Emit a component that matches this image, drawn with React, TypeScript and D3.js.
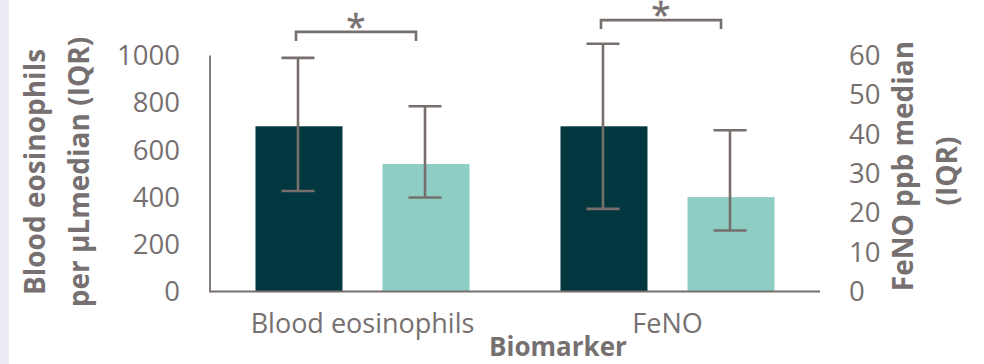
import React from 'react';
import * as d3 from 'd3';

// data
const categories = ['Blood eosinophils', 'FeNO'];
const categoryAxis = ['left', 'right'];
const seriesNames = ['baseline', 'follow-up'];
const medianDark = [700, 42];
const medianLight = [540, 24];
const q1Dark = [426, 21];
const q3Dark = [990, 63];
const q1Light = [398, 15.5];
const q3Light = [785, 41];
const leftTicks = [0, 200, 400, 600, 800, 1000];
const rightTicks = [0, 10, 20, 30, 40, 50, 60];
const bracketLevel = [1100, 69];

const W = 984;
const H = 364;
const GRAY = '#766f6c';
const TEXT = '#767070';
const DARK = '#03373f';
const LIGHT = '#8ecdc4';
const FONT = "'Open Sans', 'Noto Sans', sans-serif";

const App = () => {
  const plot = { left: 210, right: 820, top: 55.5, bottom: 291.5 };

  const x = d3.scaleBand().domain(categories).range([plot.left, plot.right]).padding(0);
  const xInner = d3.scaleBand()
    .domain(seriesNames)
    .range([0, x.bandwidth()])
    .paddingInner(0.315)
    .paddingOuter(0.358);

  const yLeft = d3.scaleLinear().domain([0, 1000]).range([plot.bottom, plot.top]);
  const yRight = d3.scaleLinear().domain([0, 60]).range([plot.bottom, plot.top]);
  const yFor = (i: number) => (categoryAxis[i] === 'left' ? yLeft : yRight);

  const bars = categories.flatMap((c, i) => [
    { cat: c, i, s: seriesNames[0], v: medianDark[i], lo: q1Dark[i], hi: q3Dark[i], fill: DARK },
    { cat: c, i, s: seriesNames[1], v: medianLight[i], lo: q1Light[i], hi: q3Light[i], fill: LIGHT },
  ]);

  const capW = 33;

  return (
    <svg width={W} height={H} style={{ position: 'absolute', left: 0, top: 0, background: '#fff' }}>
      <rect x={0} y={0} width={9} height={H} fill="#ebebf4" />

      {/* bars */}
      {bars.map((b, k) => {
        const y = yFor(b.i);
        const bx = (x(b.cat) as number) + (xInner(b.s) as number);
        return (
          <rect key={'b' + k} x={bx} y={y(b.v)} width={xInner.bandwidth()}
            height={plot.bottom - y(b.v)} fill={b.fill} />
        );
      })}

      {/* axes lines */}
      <line x1={plot.left} x2={plot.left} y1={plot.top} y2={plot.bottom + 1} stroke={GRAY} strokeWidth={1.8} />
      <line x1={plot.left} x2={plot.right} y1={plot.bottom} y2={plot.bottom} stroke={GRAY} strokeWidth={1.8} />

      {/* error bars */}
      {bars.map((b, k) => {
        const y = yFor(b.i);
        const cx = (x(b.cat) as number) + (xInner(b.s) as number) + xInner.bandwidth() / 2 - 1;
        return (
          <g key={'e' + k} stroke={GRAY} strokeWidth={2.6} fill="none">
            <line x1={cx} x2={cx} y1={y(b.hi)} y2={y(b.lo)} />
            <line x1={cx - capW / 2} x2={cx + capW / 2} y1={y(b.hi)} y2={y(b.hi)} />
            <line x1={cx - capW / 2} x2={cx + capW / 2} y1={y(b.lo)} y2={y(b.lo)} />
          </g>
        );
      })}

      {/* significance brackets */}
      {categories.map((c, i) => {
        const y = yFor(i);
        const x0 = (x(c) as number) + (xInner(seriesNames[0]) as number) + xInner.bandwidth() / 2 - 3;
        const x1 = (x(c) as number) + (xInner(seriesNames[1]) as number) + xInner.bandwidth() / 2 - 10;
        const by = y(bracketLevel[i]);
        return (
          <g key={'s' + i}>
            <path d={`M${x0},${by + 9}V${by}H${x1}V${by + 9}`} fill="none" stroke={GRAY} strokeWidth={2.6} />
            <text x={(x0 + x1) / 2} y={by + 7} textAnchor="middle" fontFamily={FONT} fontSize={35}
              fill={TEXT} stroke={TEXT} strokeWidth={0.4}>*</text>
          </g>
        );
      })}

      {/* tick labels */}
      {leftTicks.map(t => (
        <text key={'l' + t} x={180} y={yLeft(t)} dy="0.35em" textAnchor="end"
          fontFamily={FONT} fontSize={27.5} fill={TEXT}>{t}</text>
      ))}
      {rightTicks.map(t => (
        <text key={'r' + t} x={849} y={yRight(t)} dy="0.35em" textAnchor="start"
          fontFamily={FONT} fontSize={27.5} fill={TEXT}>{t}</text>
      ))}

      {/* category labels */}
      {categories.map(c => (
        <text key={'c' + c} x={(x(c) as number) + x.bandwidth() / 2} y={333} textAnchor="middle"
          fontFamily={FONT} fontSize={27} fill={TEXT}>{c}</text>
      ))}

      {/* axis titles */}
      <text x={558} y={356} textAnchor="middle" fontFamily={FONT} fontSize={26} fontWeight="bold" fill={TEXT}>Biomarker</text>

      <g transform="translate(45,172) rotate(-90)" fontFamily={FONT} fontSize={28} fontWeight="bold" fill={TEXT}>
        <text x={0} y={0} textAnchor="middle">Blood eosinophils</text>
        <text x={0} y={44} textAnchor="middle">per µLmedian (IQR)</text>
      </g>

      <g transform="translate(913,166) rotate(-90)" fontFamily={FONT} fontSize={28} fontWeight="bold" fill={TEXT}>
        <text x={0} y={0} textAnchor="middle">FeNO ppb median</text>
        <text x={-5} y={44} textAnchor="middle">(IQR)</text>
      </g>
    </svg>
  );
};

export default App;
